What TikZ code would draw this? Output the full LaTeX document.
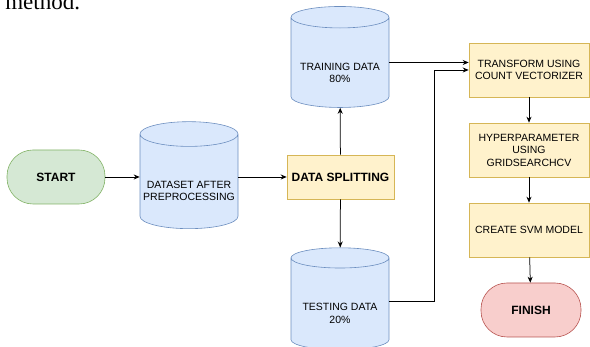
\documentclass[tikz,border=0pt]{standalone}
\usepackage{fontspec}
\setmainfont{Liberation Sans}
\newfontfamily\bodyserif{Liberation Serif}
\usetikzlibrary{shapes.geometric,arrows.meta}
\definecolor{dbfill}{HTML}{DAE8FC}
\definecolor{dbline}{HTML}{6C8EBF}
\definecolor{stepfill}{HTML}{FFF2CC}
\definecolor{stepline}{HTML}{D6B656}
\definecolor{startfill}{HTML}{D5E8D4}
\definecolor{startline}{HTML}{82B366}
\definecolor{endfill}{HTML}{F8CECC}
\definecolor{endline}{HTML}{B85450}
\begin{document}
\begin{tikzpicture}[x=1pt,y=-1pt,line width=0.6pt]
	\tikzstyle{every node}+=[inner sep=0pt,align=center,font=\fontsize{10.5}{12.5}\selectfont]
	\tikzstyle{db}=[cylinder,shape border rotate=90,aspect=0.27,draw=dbline,fill=dbfill,minimum width=98pt]
	\tikzstyle{stepbox}=[rectangle,draw=stepline,fill=stepfill,minimum width=120pt,minimum height=54pt]
	\tikzstyle{term}=[rectangle,rounded corners=26pt,minimum height=54pt,font=\fontsize{12}{14}\selectfont\bfseries]
	\tikzstyle{arr}=[-{Stealth[length=6pt,width=5pt]},black,line width=0.75pt]
	\useasboundingbox (0,0) rectangle (590,347);
	\node [anchor=base west,font=\bodyserif\fontsize{23}{23}\selectfont] (title) at (5,10) {method.};
	\node [term,draw=startline,fill=startfill,minimum width=98pt] (start) at (56,177) {START};
	\node [db,minimum height=107pt] (dataset) at (189,181.5) {\\[14pt]DATASET AFTER\\PREPROCESSING};
	\node [stepbox,minimum width=107pt,minimum height=44pt,font=\fontsize{12}{14}\selectfont\bfseries] (split) at (340.5,177) {DATA SPLITTING};
	\node [db,minimum height=101pt] (train) at (340,62.5) {\\[16pt]TRAINING DATA\\80\%};
	\node [db,minimum height=102pt] (test) at (340,304) {\\[14pt]TESTING DATA\\20\%};
	\node [stepbox] (transform) at (529,70) {TRANSFORM USING\\COUNT VECTORIZER};
	\node [stepbox] (hyper) at (529,150) {HYPERPARAMETER\\USING\\GRIDSEARCHCV};
	\node [stepbox] (create) at (529,230) {CREATE SVM MODEL};
	\node [term,draw=endline,fill=endfill,minimum width=100pt] (finish) at (531,310) {FINISH};
	\draw [arr] (start) -- (dataset.west |- start);
	\draw [arr] (dataset.east |- split) -- (split);
	\draw [arr] (split) -- (train);
	\draw [arr] (split) -- (test);
	\draw [arr] (train.east) -- (train.east -| transform.west);
	\draw [arr] ([yshift=3pt]test.east) -- ++(45,0) |- (transform.west);
	\draw [arr] (transform) -- (hyper);
	\draw [arr] (hyper) -- (create);
	\draw [arr] (create) -- (finish);
\end{tikzpicture}
\end{document}
